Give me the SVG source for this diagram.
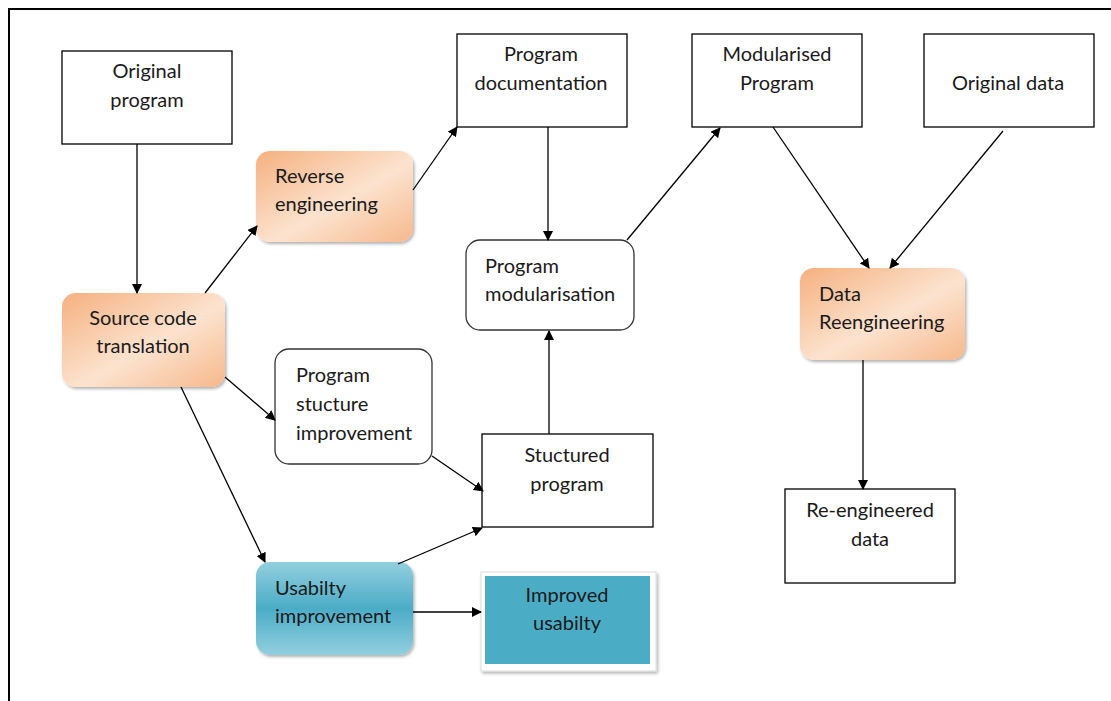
<svg xmlns="http://www.w3.org/2000/svg" width="1111" height="701" viewBox="0 0 1111 701">
<defs>
<linearGradient id="orange" x1="0" y1="0" x2="1" y2="1">
<stop offset="0" stop-color="#F5B07F"/>
<stop offset="0.55" stop-color="#FCE3CF"/>
<stop offset="1" stop-color="#F6B88C"/>
</linearGradient>
<linearGradient id="teal" x1="0" y1="0" x2="0" y2="1">
<stop offset="0" stop-color="#93CFDF"/>
<stop offset="0.5" stop-color="#4BACC6"/>
<stop offset="1" stop-color="#93CFDF"/>
</linearGradient>
<filter id="sh" x="-10%" y="-10%" width="125%" height="125%">
<feDropShadow dx="1.5" dy="2" stdDeviation="1.5" flood-color="#000" flood-opacity="0.3"/>
</filter>
<marker id="ah" markerWidth="10" markerHeight="10" refX="9" refY="5" orient="auto" markerUnits="userSpaceOnUse">
<path d="M0,0 L10,5 L0,10 z" fill="#000"/>
</marker>
</defs>
<style>
text{font-family:Lato,"Open Sans","Liberation Sans",sans-serif;font-size:20px;fill:#1a1a1a}
.c{text-anchor:middle}
.box{fill:#fff;stroke:#000;stroke-width:1.3}
.rw{fill:#fff;stroke:#333;stroke-width:1.3}
.or{fill:url(#orange);filter:url(#sh)}
.tl{fill:url(#teal);filter:url(#sh)}
.ln{stroke:#000;stroke-width:1.3;fill:none;marker-end:url(#ah)}
</style>
<rect width="1111" height="701" fill="#fff"/>
<path d="M9,701 V9 H1111" fill="none" stroke="#000" stroke-width="2"/>

<g id="original-program"><rect class="box" x="62" y="51" width="170" height="93"/><text class="c" x="147" y="78">Original</text><text class="c" x="147" y="107">program</text></g>
<g id="program-documentation"><rect class="box" x="457" y="34" width="170" height="93"/><text class="c" x="541" y="61">Program</text><text class="c" x="541" y="90">documentation</text></g>
<g id="modularised-program"><rect class="box" x="692" y="34" width="170" height="93"/><text class="c" x="777" y="61">Modularised</text><text class="c" x="777" y="90">Program</text></g>
<g id="original-data"><rect class="box" x="924" y="34" width="170" height="93"/><text class="c" x="1008" y="90">Original data</text></g>
<g id="reverse-engineering"><rect class="or" x="256" y="151" width="157" height="91" rx="14"/><text x="275" y="183">Reverse</text><text x="275" y="211">engineering</text></g>
<g id="program-modularisation"><rect class="rw" x="466" y="240" width="168" height="90" rx="14"/><text x="485" y="273">Program</text><text x="485" y="301">modularisation</text></g>
<g id="data-reengineering"><rect class="or" x="800" y="268" width="165" height="92" rx="14"/><text x="819" y="301">Data</text><text x="819" y="329">Reengineering</text></g>
<g id="source-code-translation"><rect class="or" x="62" y="293" width="163" height="94" rx="14"/><text class="c" x="143" y="325">Source code</text><text class="c" x="143" y="353">translation</text></g>
<g id="program-structure-improvement"><rect class="rw" x="275" y="349" width="157" height="115" rx="14"/><text x="296" y="382">Program</text><text x="296" y="411">stucture</text><text x="296" y="440">improvement</text></g>
<g id="structured-program"><rect class="box" x="482" y="434" width="171" height="93"/><text class="c" x="567" y="462">Stuctured</text><text class="c" x="567" y="491">program</text></g>
<g id="re-engineered-data"><rect class="box" x="785" y="489" width="170" height="94"/><text class="c" x="870" y="517">Re-engineered</text><text class="c" x="870" y="546">data</text></g>
<g id="usability-improvement"><rect class="tl" x="256" y="562" width="157" height="93" rx="14"/><text x="275" y="595">Usabilty</text><text x="275" y="623">improvement</text></g>
<g id="improved-usability"><rect x="481" y="572" width="175" height="99" fill="#fff" stroke="#ddd" stroke-width="1" filter="url(#sh)"/><rect x="485" y="576" width="165" height="88" fill="#4BACC6"/><text class="c" x="567" y="602">Improved</text><text class="c" x="567" y="630">usabilty</text></g>

<g id="connectors">
<line class="ln" x1="137" y1="144" x2="137" y2="293"/>
<line class="ln" x1="205" y1="293" x2="257" y2="226"/>
<line class="ln" x1="413" y1="190" x2="457" y2="127"/>
<line class="ln" x1="548" y1="127" x2="548" y2="240"/>
<line class="ln" x1="627" y1="240" x2="720" y2="128"/>
<line class="ln" x1="773" y1="127" x2="869" y2="268"/>
<line class="ln" x1="1003" y1="131" x2="890" y2="268"/>
<line class="ln" x1="863" y1="360" x2="863" y2="489"/>
<line class="ln" x1="225" y1="377" x2="275" y2="420"/>
<line class="ln" x1="181" y1="387" x2="265" y2="562"/>
<line class="ln" x1="432" y1="456" x2="483" y2="491"/>
<line class="ln" x1="398" y1="564" x2="482" y2="528"/>
<line class="ln" x1="549" y1="434" x2="549" y2="331"/>
<line class="ln" x1="413" y1="612" x2="481" y2="612"/>
</g>
</svg>
